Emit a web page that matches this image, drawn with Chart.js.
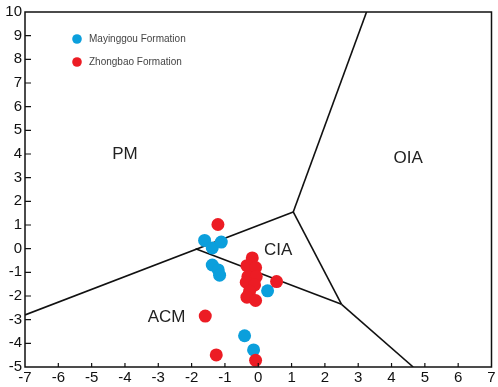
<!DOCTYPE html>
<html>
<head>
<meta charset="utf-8">
<script src="https://cdn.jsdelivr.net/npm/chart.js@4.4.1/dist/chart.umd.min.js"></script>
<style>
    html, body { margin: 0; padding: 0; background: #fff; }
    #wrap { width: 498px; height: 387px; position: relative; }
</style>
</head>
<body>
<div id="wrap"><canvas id="tectonicChart"></canvas></div>
<script>
// sample points (x, y)
const mayinggouX = [-1.61, -1.38, -1.11, -1.38, -1.2, -1.16, 0.28, -0.41, -0.14];
const mayinggouY = [0.35, 0.03, 0.28, -0.69, -0.9, -1.12, -1.78, -3.68, -4.28];

const zhongbaoX = [-1.21, -0.18, -0.34, -0.08, -0.31, -0.06, -0.36, -0.11, -0.26, -0.34, -0.08, 0.55, -1.59, -1.26, -0.08];
const zhongbaoY = [1.02, -0.39, -0.72, -0.8, -1.18, -1.18, -1.42, -1.53, -1.8, -2.05, -2.19, -1.39, -2.85, -4.49, -4.72];

// field boundaries (x, y)
const boundaryLines = [
    { x: [-7, 1.05], y: [-2.8, 1.55] },
    { x: [-1.88, 2.5], y: [0.0, -2.35] },
    { x: [1.05, 3.25], y: [1.55, 10] },
    { x: [1.05, 2.5], y: [1.55, -2.35] },
    { x: [2.5, 4.65], y: [-2.35, -5] }
];

// field names and where they sit
const fieldNames = ['PM', 'OIA', 'CIA', 'ACM'];
const fieldX = [-4.0, 4.5, 0.6, -2.75];
const fieldY = [4.0, 3.8, -0.05, -2.9];

const xMin = -7, xMax = 7;
const yMin = -5, yMax = 10;

const seriesNames = ['Mayinggou Formation', 'Zhongbao Formation'];
const seriesColors = ['#0b9fdc', '#ec1c24'];

const toPoints = (xs, ys) => xs.map((v, i) => ({ x: v, y: ys[i] }));

const lineSets = boundaryLines.map(b => ({
    type: 'line',
    data: toPoints(b.x, b.y),
    borderColor: '#111',
    borderWidth: 1.6,
    pointRadius: 0,
    fill: false,
    showLine: true,
    order: 2
}));

// inward ticks, frame, field labels and the little legend
const decorPlugin = {
    id: 'decor',
    afterDatasetsDraw(chart) {
        const { ctx, chartArea: a, scales: { x, y } } = chart;
        ctx.save();
        ctx.strokeStyle = '#111';
        ctx.lineWidth = 1.5;
        ctx.strokeRect(a.left, a.top, a.right - a.left, a.bottom - a.top);

        ctx.lineWidth = 1.2;
        ctx.beginPath();
        for (let v = xMin + 1; v < xMax; v++) {
            const px = x.getPixelForValue(v);
            ctx.moveTo(px, a.bottom);
            ctx.lineTo(px, a.bottom - 4);
        }
        for (let v = yMin + 1; v < yMax; v++) {
            const py = y.getPixelForValue(v);
            ctx.moveTo(a.left, py);
            ctx.lineTo(a.left + 6, py);
        }
        ctx.stroke();

        ctx.fillStyle = '#222';
        ctx.font = '17px "Liberation Sans", Arial, sans-serif';
        ctx.textAlign = 'center';
        ctx.textBaseline = 'middle';
        fieldNames.forEach((name, i) => {
            ctx.fillText(name, x.getPixelForValue(fieldX[i]), y.getPixelForValue(fieldY[i]));
        });

        // legend
        ctx.font = '10px "Liberation Sans", Arial, sans-serif';
        ctx.textAlign = 'left';
        seriesNames.forEach((name, i) => {
            const ly = 39 + i * 23;
            ctx.fillStyle = seriesColors[i];
            ctx.beginPath();
            ctx.arc(77, ly, 4.8, 0, Math.PI * 2);
            ctx.fill();
            ctx.fillStyle = '#444';
            ctx.fillText(name, 89, ly);
        });
        ctx.restore();
    }
};

document.addEventListener('DOMContentLoaded', () => {
    const ctx = document.getElementById('tectonicChart').getContext('2d');

    new Chart(ctx, {
        type: 'scatter',
        data: {
            datasets: [
                {
                    label: seriesNames[0],
                    data: toPoints(mayinggouX, mayinggouY),
                    backgroundColor: seriesColors[0],
                    borderWidth: 0,
                    pointRadius: 6.5,
                    order: 1
                },
                {
                    label: seriesNames[1],
                    data: toPoints(zhongbaoX, zhongbaoY),
                    backgroundColor: seriesColors[1],
                    borderWidth: 0,
                    pointRadius: 6.5,
                    order: 0
                },
                ...lineSets
            ]
        },
        options: {
            responsive: true,
            maintainAspectRatio: false,
            animation: false,
            layout: { padding: { top: 7, right: 5, left: 0, bottom: 0 } },
            plugins: {
                legend: { display: false },
                tooltip: { enabled: false }
            },
            scales: {
                x: {
                    type: 'linear',
                    min: xMin,
                    max: xMax,
                    ticks: {
                        stepSize: 1,
                        color: '#111',
                        padding: 2,
                        font: { family: '"Liberation Sans", Arial, sans-serif', size: 15 }
                    },
                    grid: { drawOnChartArea: false, drawTicks: false },
                    border: { display: false },
                    afterFit: s => { s.height = 20; }
                },
                y: {
                    type: 'linear',
                    min: yMin,
                    max: yMax,
                    ticks: {
                        stepSize: 1,
                        color: '#111',
                        padding: 3,
                        font: { family: '"Liberation Sans", Arial, sans-serif', size: 15 }
                    },
                    grid: { drawOnChartArea: false, drawTicks: false },
                    border: { display: false },
                    afterFit: s => { s.width = 25; }
                }
            }
        },
        plugins: [decorPlugin]
    });
});
</script>
</body>
</html>
